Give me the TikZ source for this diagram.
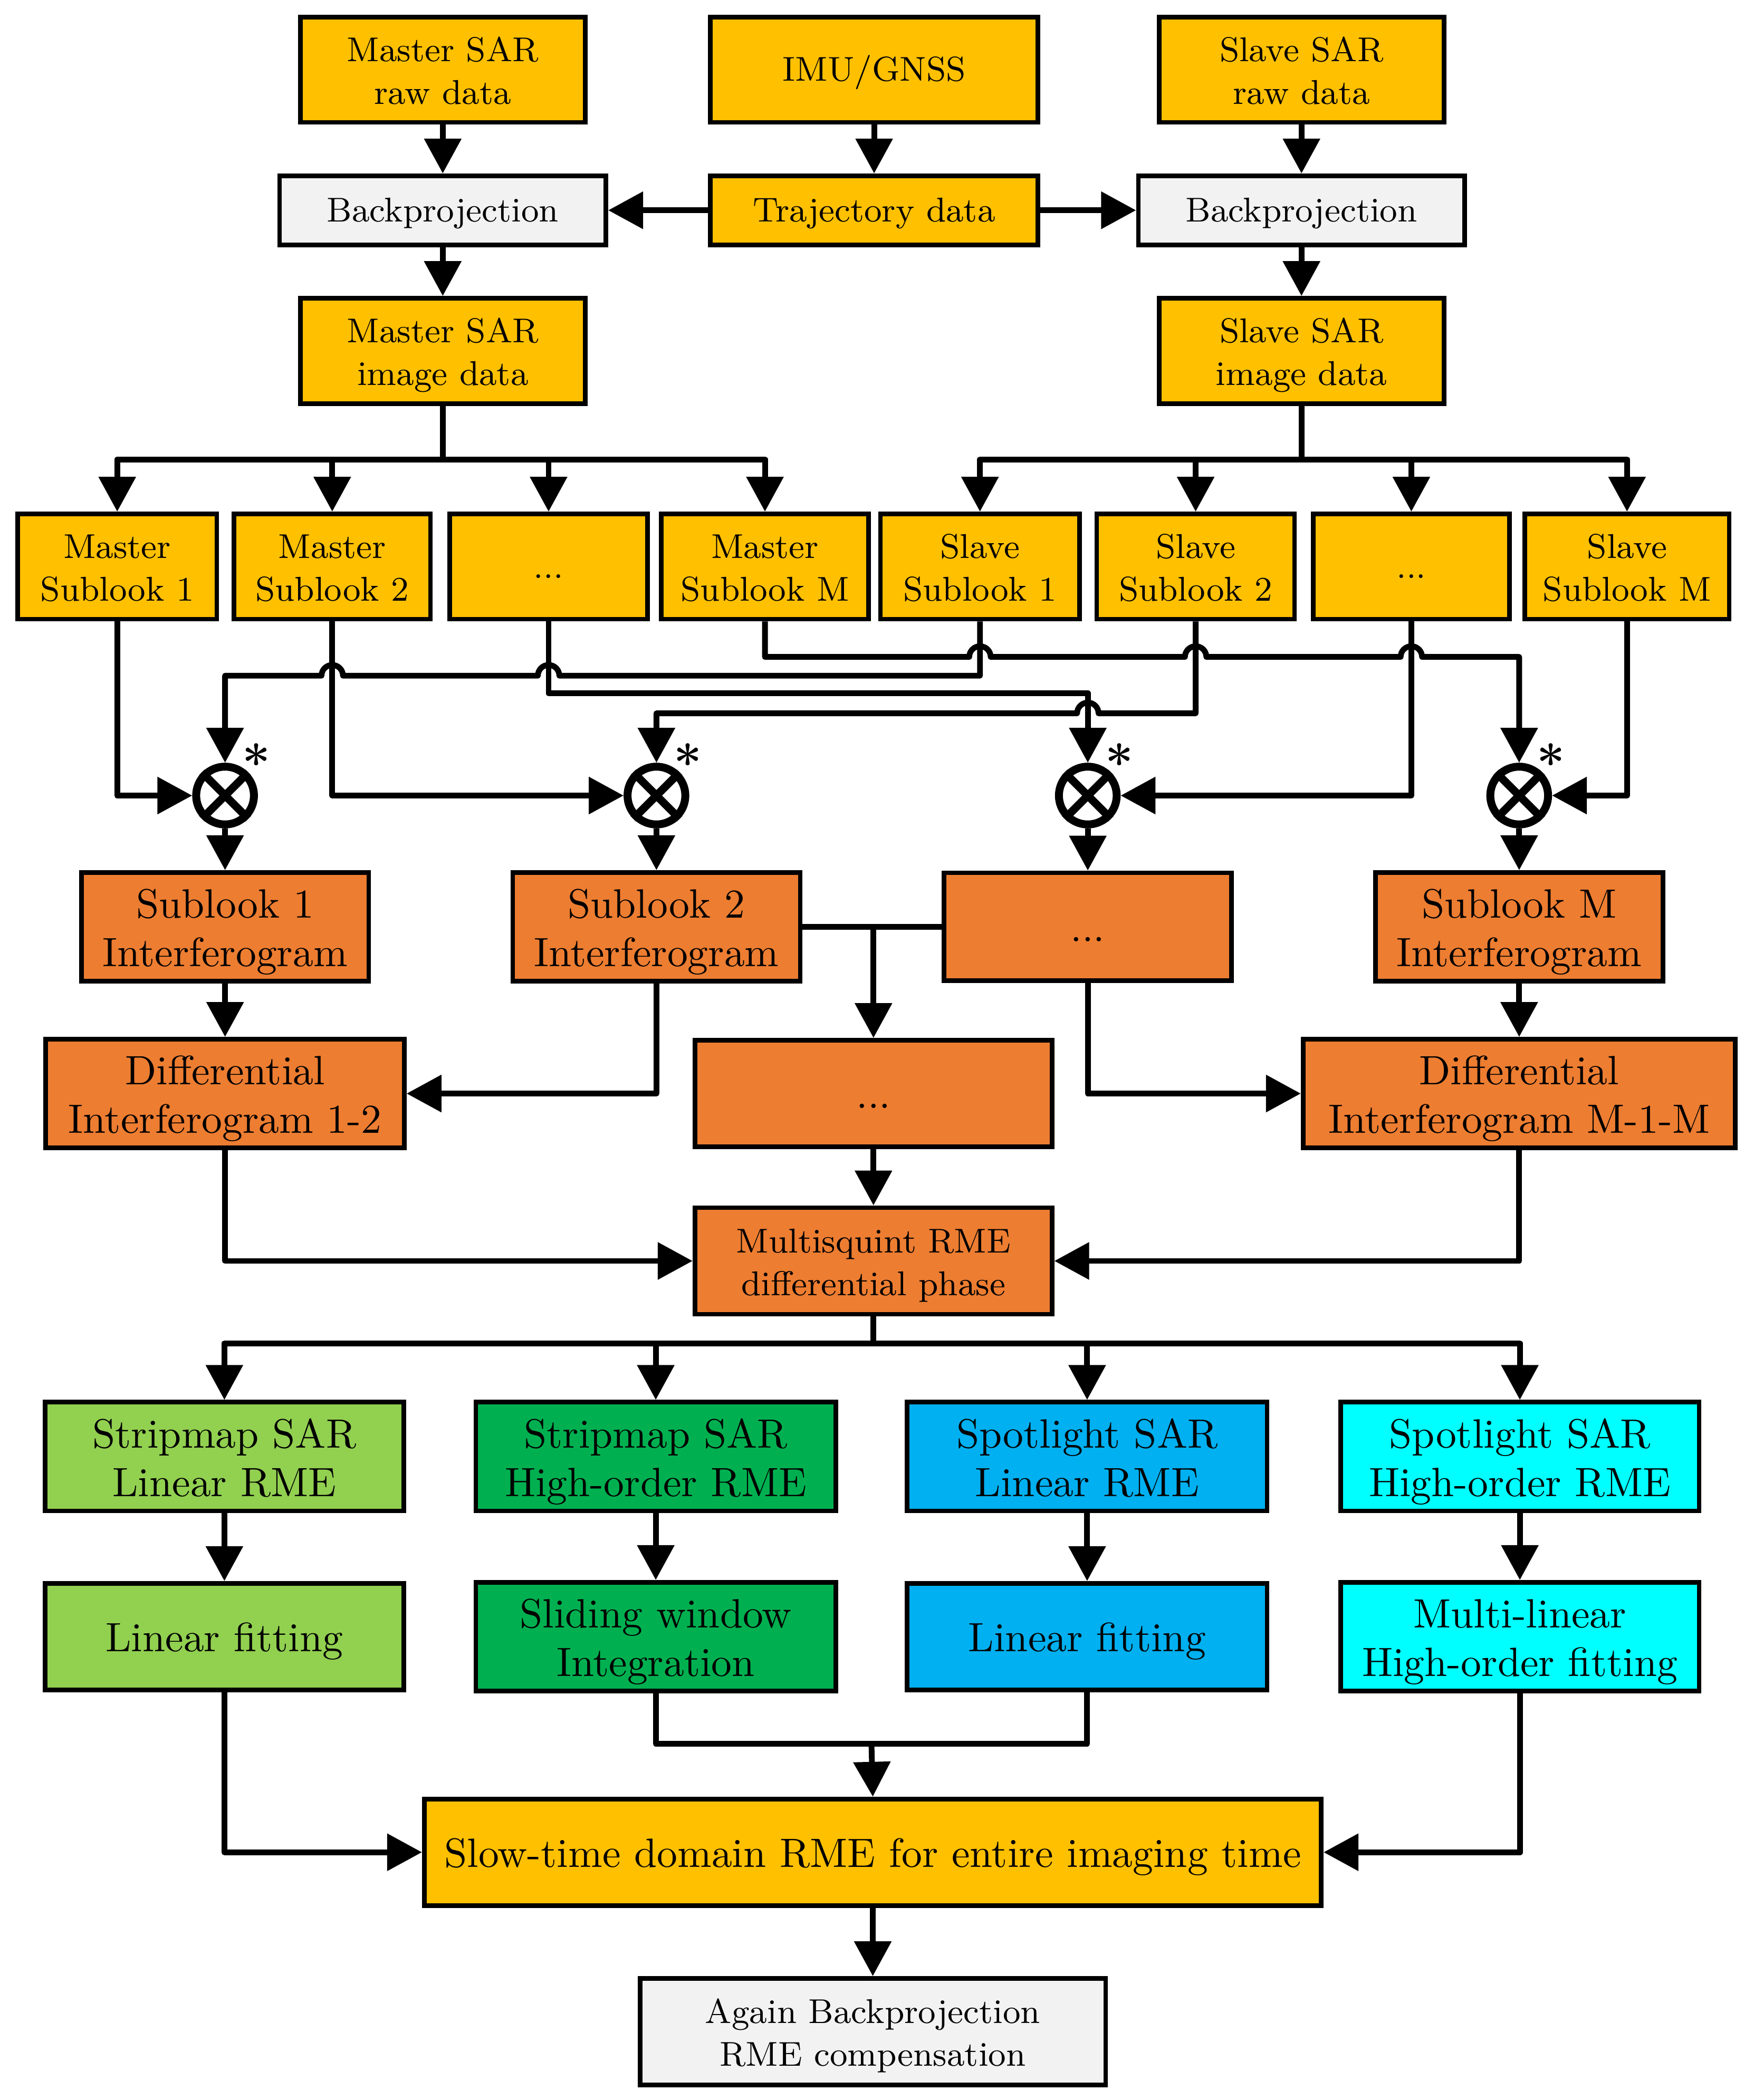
\documentclass[tikz,border=0pt]{standalone}
\usetikzlibrary{arrows.meta}
\definecolor{cyel}{HTML}{FFC000}
\definecolor{cgray}{HTML}{F2F2F2}
\definecolor{corg}{HTML}{ED7D31}
\definecolor{clgreen}{HTML}{92D050}
\definecolor{cgreen}{HTML}{00B050}
\definecolor{cblue}{HTML}{00B0F0}
\definecolor{ccyan}{HTML}{00FFFF}
\newcommand\smallfnt{\fontsize{9}{11.2}\selectfont}
\newcommand\bigfnt{\fontsize{10.7}{12.7}\selectfont}
\begin{document}
\begin{tikzpicture}[x=0.35pt,y=-0.35pt,
  box/.style 2 args={draw, line width=1.2pt, inner sep=0pt, align=center,
    minimum width={(#1-3.4)*0.35pt}, minimum height={(#2-3.4)*0.35pt}},
  sbox1/.style={font=\smallfnt, execute at end node={\rule[-3.36pt]{0pt}{12.72pt}}},
  sbox2/.style={font=\smallfnt, execute at end node={\rule[-3.36pt]{0pt}{24.72pt}}},
  bbox1/.style={font=\bigfnt, execute at end node={\rule[-3.81pt]{0pt}{15.41pt}}},
  bbox2/.style={font=\bigfnt, execute at end node={\rule[-3.81pt]{0pt}{28.41pt}}},
  arr/.style={-{Triangle[length=9.1pt,width=9.45pt]}},
  conn/.style={line width=1.5pt, line join=round},
  mult/.style={circle, draw, line width=2.07pt, minimum size=15.1pt, inner sep=0pt},
  star/.style={font=\fontsize{13}{13}\selectfont\bfseries, inner sep=0pt}
]
\useasboundingbox (0,0) rectangle (1309,1568);

% top rows
\node[box={216}{82}, fill=cyel, sbox2] (mraw) at (330.5,52) {Master SAR\\raw data};
\node[box={248}{82}, fill=cyel, sbox1] (imu) at (652.5,52) {IMU/GNSS};
\node[box={216}{82}, fill=cyel, sbox2] (sraw) at (971.5,52) {Slave SAR\\raw data};
\node[box={247}{55}, fill=cgray, sbox1] (bpl) at (330.5,157) {Backprojection};
\node[box={248}{55}, fill=cyel, sbox1] (traj) at (652.5,157) {Trajectory data};
\node[box={247}{55}, fill=cgray, sbox1] (bpr) at (971.5,157) {Backprojection};
\node[box={216}{82}, fill=cyel, sbox2] (mimg) at (330.5,262) {Master SAR\\image data};
\node[box={216}{82}, fill=cyel, sbox2] (simg) at (971.5,262) {Slave SAR\\image data};

% sublooks
\node[box={152}{82}, fill=cyel, sbox2] (ms1) at (87.5,423) {Master\\Sublook 1};
\node[box={150}{82}, fill=cyel, sbox2] (ms2) at (248,423) {Master\\Sublook 2};
\node[box={151}{82}, fill=cyel, sbox1] (mdots) at (409.5,423) {...};
\node[box={158}{82}, fill=cyel, sbox2] (msM) at (571,423) {Master\\Sublook M};
\node[box={152}{82}, fill=cyel, sbox2] (ss1) at (731.5,423) {Slave\\Sublook 1};
\node[box={151}{82}, fill=cyel, sbox2] (ss2) at (892.5,423) {Slave\\Sublook 2};
\node[box={150}{82}, fill=cyel, sbox1] (sdots) at (1053.5,423) {...};
\node[box={156}{82}, fill=cyel, sbox2] (ssM) at (1214.5,423) {Slave\\Sublook M};

% multipliers
\node[mult] (x1) at (168,594) {};
\node[mult] (x2) at (490,594) {};
\node[mult] (x3) at (812,594) {};
\node[mult] (x4) at (1134,594) {};
\foreach \c in {x1,x2,x3,x4}
  \draw[line width=2.07pt] (\c.north west) -- (\c.south east) (\c.north east) -- (\c.south west);
\node[star] (st1) at (191.5,569) {*};
\node[star] (st2) at (513.5,569) {*};
\node[star] (st3) at (835.5,569) {*};
\node[star] (st4) at (1157.5,569) {*};

% interferograms
\node[box={218}{84}, fill=corg, bbox2] (if1) at (168,692) {Sublook 1\\Interferogram};
\node[box={218}{84}, fill=corg, bbox2] (if2) at (490,692) {Sublook 2\\Interferogram};
\node[box={218}{84}, fill=corg, bbox1] (ifdots) at (812,692) {...};
\node[box={218}{84}, fill=corg, bbox2] (ifM) at (1134,692) {Sublook M\\Interferogram};

\node[box={271}{83}, fill=corg, bbox2] (d12) at (168,816.5) {Differential\\Interferogram 1-2};
\node[box={270}{83}, fill=corg, bbox1] (fdots) at (652,816.5) {...};
\node[box={326}{83}, fill=corg, bbox2] (dM) at (1134,816.5) {Differential\\Interferogram M-1-M};

\node[box={270}{83}, fill=corg, sbox2] (msq) at (652,941.5) {Multisquint RME\\differential phase};

% modes
\node[box={271}{83}, fill=clgreen, bbox2] (sl1) at (167.5,1087.5) {Stripmap SAR\\Linear RME};
\node[box={272}{83}, fill=cgreen, bbox2] (sh1) at (489.5,1087.5) {Stripmap SAR\\High-order RME};
\node[box={272}{83}, fill=cblue, bbox2] (pl1) at (811.5,1087.5) {Spotlight SAR\\Linear RME};
\node[box={271}{83}, fill=ccyan, bbox2] (ph1) at (1134.5,1087.5) {Spotlight SAR\\High-order RME};

\node[box={271}{83}, fill=clgreen, bbox1] (lf1) at (167.5,1222) {Linear fitting};
\node[box={272}{83}, fill=cgreen, bbox2] (swi) at (489.5,1222) {Sliding window\\Integration};
\node[box={272}{83}, fill=cblue, bbox1] (lf2) at (811.5,1222) {Linear fitting};
\node[box={271}{83}, fill=ccyan, bbox2] (mlf) at (1134.5,1222) {Multi-linear\\High-order fitting};

\node[box={673}{83}, fill=cyel, bbox1] (slow) at (651.5,1383) {Slow-time domain RME for entire imaging time};
\node[box={351}{83}, fill=cgray, sbox2] (again) at (651.5,1517) {Again Backprojection\\RME compensation};

\coordinate (mbus) at (330.5,343);
\coordinate (sbus) at (971.5,343);
\coordinate (bus2) at (652,1003);
\coordinate (jn) at (650.5,1302);

\begin{scope}[conn]
\draw[arr] (mraw.south) -- (bpl.north);
\draw[arr] (imu.south) -- (traj.north);
\draw[arr] (sraw.south) -- (bpr.north);
\draw[arr] (traj.west) -- (bpl.east);
\draw[arr] (traj.east) -- (bpr.west);
\draw[arr] (bpl.south) -- (mimg.north);
\draw[arr] (bpr.south) -- (simg.north);

\draw (mimg.south) -- (mbus);
\foreach \n in {ms1,ms2,mdots,msM} \draw[arr] (mbus) -| (\n.north);
\draw (simg.south) -- (sbus);
\foreach \n in {ss1,ss2,sdots,ssM} \draw[arr] (sbus) -| (\n.north);

\draw[arr] (ms1.south) |- (x1.west);
\draw[arr] (ms2.south) |- (x2.west);
\draw[arr] (sdots.south) |- (x3.east);
\draw[arr] (ssM.south) |- (x4.east);

\draw[arr] (ss1.south) -- (731.5,504.5) -- (417.5,504.5)
  arc[start angle=0,end angle=180,radius=2.8pt] -- (256,504.5)
  arc[start angle=0,end angle=180,radius=2.8pt] -- (168,504.5) -- (x1.north);
\draw[arr] (msM.south) -- (571,490.5) -- (723.5,490.5)
  arc[start angle=180,end angle=0,radius=2.8pt] -- (884.5,490.5)
  arc[start angle=180,end angle=0,radius=2.8pt] -- (1045.5,490.5)
  arc[start angle=180,end angle=0,radius=2.8pt] -- (1134,490.5) -- (x4.north);
\draw[arr] (mdots.south) -- (409.5,517.7) -- (812,517.7) -- (x3.north);
\draw[arr] (ss2.south) -- (892.5,532.6) -- (820,532.6)
  arc[start angle=0,end angle=180,radius=2.8pt] -- (490,532.6) -- (x2.north);

\draw[arr] (x1.south) -- (if1.north);
\draw[arr] (x2.south) -- (if2.north);
\draw[arr] (x3.south) -- (ifdots.north);
\draw[arr] (x4.south) -- (ifM.north);

\draw[arr] (if1.south) -- (d12.north);
\draw[arr] (if2.south) |- (d12.east);
\draw (if2.east) -- (ifdots.west);
\draw[arr] (if2.east -| fdots.north) -- (fdots.north);
\draw[arr] (ifdots.south) |- (dM.west);
\draw[arr] (ifM.south) -- (dM.north);

\draw[arr] (d12.south) |- (msq.west);
\draw[arr] (fdots.south) -- (msq.north);
\draw[arr] (dM.south) |- (msq.east);

\draw (msq.south) -- (bus2);
\foreach \n in {sl1,sh1,pl1,ph1} \draw[arr] (bus2) -| (\n.north);

\draw[arr] (sl1.south) -- (lf1.north);
\draw[arr] (sh1.south) -- (swi.north);
\draw[arr] (pl1.south) -- (lf2.north);
\draw[arr] (ph1.south) -- (mlf.north);

\draw (swi.south) |- (jn);
\draw (lf2.south) |- (jn);
\draw[arr] (jn) -- (slow.north);
\draw[arr] (lf1.south) |- (slow.west);
\draw[arr] (mlf.south) |- (slow.east);
\draw[arr] (slow.south) -- (again.north);
\end{scope}
\end{tikzpicture}
\end{document}
